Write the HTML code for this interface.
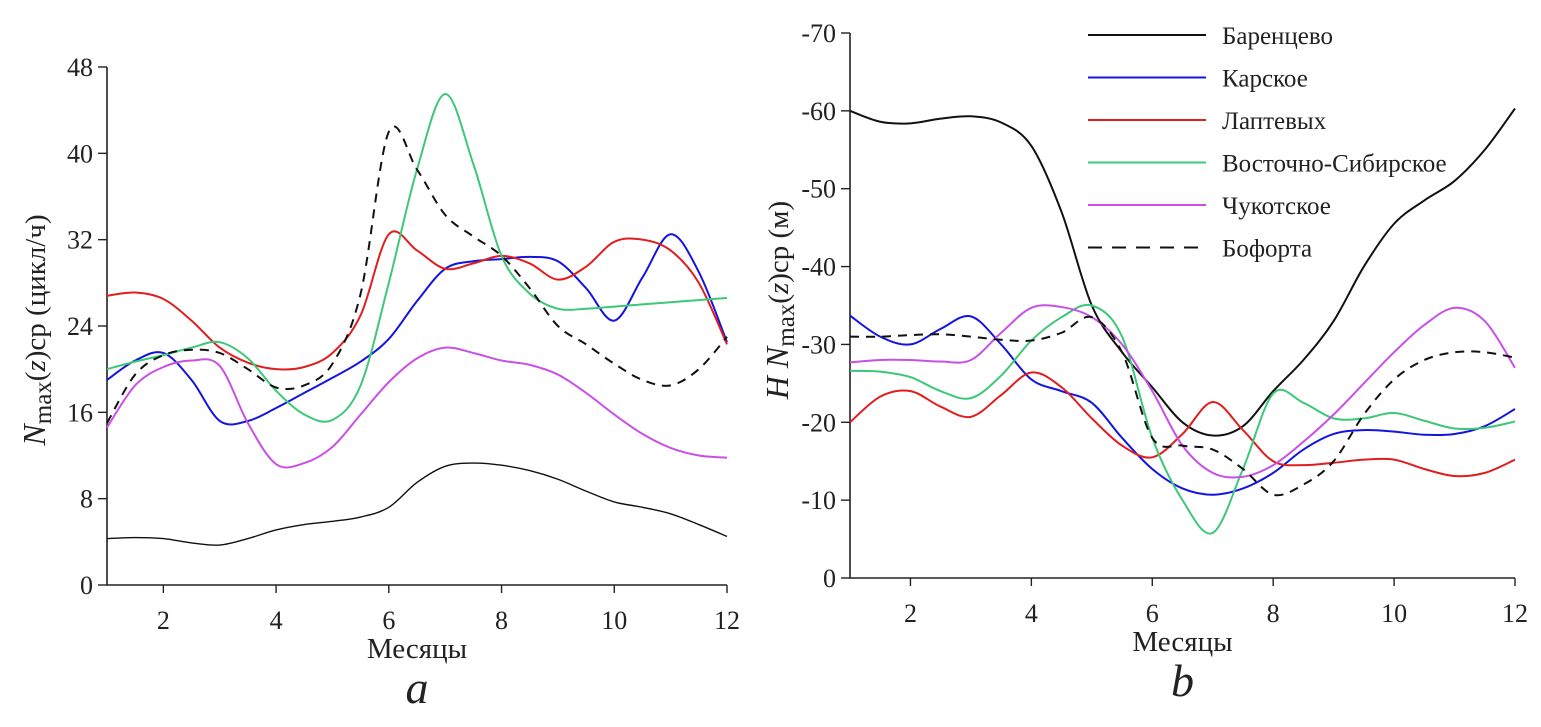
<!DOCTYPE html>
<html><head><meta charset="utf-8"><style>
body{margin:0;background:#fff;}
svg{display:block;font-family:"Liberation Serif","DejaVu Serif",serif;}
</style></head><body>
<svg id="c" width="1541" height="727" viewBox="0 0 1541 727"></svg>
<script>
const months=[1,1.5,2,2.5,3,3.5,4,4.5,5,5.5,6,6.5,7,7.5,8,8.5,9,9.5,10,10.5,11,11.5,12];
const xTicks=[2,4,6,8,10,12];
const aTicks=[0,8,16,24,32,40,48];
const bTicks=[0,-10,-20,-30,-40,-50,-60,-70];
const seriesNames=["Баренцево","Карское","Лаптевых","Восточно-Сибирское","Чукотское","Бофорта"];
const seriesColors=["#111","#1414e0","#e01e1e","#3cc878","#c850e6","#111"];
const aBarents=[4.3,4.4,4.3,3.9,3.7,4.3,5.1,5.6,5.9,6.3,7.2,9.5,11.0,11.3,11.1,10.6,9.8,8.7,7.7,7.2,6.6,5.6,4.5];
const aKara=[19,20.8,21.5,19,15.2,15.2,16.4,17.8,19.2,20.7,22.8,26.3,29.3,30,30.2,30.4,30,27.5,24.5,28.5,32.5,29,22.5];
const aLaptev=[26.8,27.1,26.5,24.5,22,20.6,20,20.2,21.5,25,32.5,31,29.3,29.8,30.5,29.8,28.3,29.5,31.8,32,31,28,22.3];
const aEastSib=[20,20.7,21.3,22,22.5,21,18,15.8,15.3,18.5,28,38.5,45.5,39,30.5,27,25.6,25.6,25.8,26,26.2,26.4,26.6];
const aChukchi=[14.6,18.5,20.2,20.8,20.3,15,11.2,11.3,12.8,15.8,18.8,21,22,21.5,20.8,20.4,19.5,17.8,15.8,14,12.7,12,11.8];
const aBeaufort=[15,19.5,21.3,21.8,21.5,20,18.3,18.5,20.5,27,42,38.5,34.3,32.3,30.5,27.5,24,22.3,20.5,19,18.5,20,23];
const bBarents=[-60,-58.6,-58.4,-59,-59.3,-58.5,-55.5,-47,-35,-29,-24.5,-20,-18.3,-19.5,-24,-28,-33,-40,-45.5,-48.5,-51,-55,-60.3];
const bKara=[-33.7,-31,-30,-32,-33.6,-30,-25.5,-24,-22.5,-18,-14,-11.5,-10.7,-11.5,-13.5,-16.5,-18.5,-19,-18.8,-18.4,-18.5,-19.5,-21.7];
const bLaptev=[-20,-23.3,-24,-22,-20.7,-23.5,-26.4,-24.5,-20.5,-17,-15.5,-18.5,-22.6,-19,-15,-14.5,-14.8,-15.2,-15.2,-14,-13.1,-13.5,-15.2];
const bEastSib=[-26.6,-26.5,-25.8,-24,-23.1,-26,-30.5,-33.5,-35,-31,-18,-10,-5.8,-14,-23.7,-22.5,-20.5,-20.5,-21.2,-20.2,-19.2,-19.3,-20.1];
const bChukchi=[-27.7,-28,-28,-27.8,-28,-31.5,-34.7,-34.8,-33.5,-30,-24,-17,-13.5,-13,-14.5,-17.5,-21,-25,-29,-32.5,-34.7,-33,-27];
const bBeaufort=[-31,-31,-31.2,-31.3,-31,-30.6,-30.5,-31.5,-33.5,-29,-18,-17,-16.5,-14,-10.7,-12,-15,-21,-25.5,-28,-29,-29,-28.3];

const NS="http://www.w3.org/2000/svg";
const svg=document.getElementById('c');
function mk(tag,attrs,parent){const e=document.createElementNS(NS,tag);for(const k in attrs)e.setAttribute(k,attrs[k]);(parent||svg).appendChild(e);return e;}
function smooth(pts){let d=`M${pts[0][0]},${pts[0][1]}`;for(let i=0;i<pts.length-1;i++){const p0=pts[Math.max(0,i-1)],p1=pts[i],p2=pts[i+1],p3=pts[Math.min(pts.length-1,i+2)];const c1=[p1[0]+(p2[0]-p0[0])/6,p1[1]+(p2[1]-p0[1])/6],c2=[p2[0]-(p3[0]-p1[0])/6,p2[1]-(p3[1]-p1[1])/6];d+=`C${c1[0]},${c1[1]} ${c2[0]},${c2[1]} ${p2[0]},${p2[1]}`;}return d;}

function panel(cfg){
  const g=mk('g',{});
  
  
  const sx=m=>cfg.x0+(m-1)*(cfg.x1-cfg.x0)/11;
  const sy=v=>cfg.yb+(v-cfg.vmin)/(cfg.vmax-cfg.vmin)*(cfg.yt-cfg.yb);
  const ax=mk('path',{d:`M${cfg.x0},${cfg.yt}V${cfg.yb}H${cfg.x1}`,stroke:'#222','stroke-width':1.6,fill:'none'},g);
  
  cfg.yticks.forEach(v=>{
    mk('line',{x1:cfg.x0-9,x2:cfg.x0,y1:sy(v),y2:sy(v),stroke:'#222','stroke-width':1.4},g);
    const t=mk('text',{x:cfg.x0-14,y:sy(v)+9,'text-anchor':'end','font-size':26,fill:'#222'},g);
    t.textContent=v;
    
  });
  xTicks.forEach(m=>{
    mk('line',{x1:sx(m),x2:sx(m),y1:cfg.yb,y2:cfg.yb+8,stroke:'#222','stroke-width':1.4},g);
    const t=mk('text',{x:sx(m),y:cfg.yb+44,'text-anchor':'middle','font-size':26,fill:'#222'},g);
    t.textContent=m;
    
  });
  const xt=mk('text',{x:(cfg.x0+cfg.x1)/2,y:cfg.yb+73,'text-anchor':'middle','font-size':29,fill:'#222'},g);
  xt.textContent='Месяцы';
  
  const pl=mk('text',{x:(cfg.x0+cfg.x1)/2,y:cfg.yb+118,'text-anchor':'middle','font-size':46,'font-style':'italic',fill:'#222'},g);
  pl.textContent=cfg.letter;
  
  cfg.series.forEach((s,i)=>{
    const pts=s.map((v,j)=>[sx(months[j]),sy(v)]);
    const p=mk('path',{d:smooth(pts),fill:'none',stroke:seriesColors[i],'stroke-width':i==0&&cfg.letter=='a'?1.4:2},g);
    if(i==5)p.setAttribute('stroke-dasharray','9,7');
    
    
  });
}
panel({name:'panel-a',letter:'a',x0:107,x1:727,yb:585,yt:67,vmin:0,vmax:48,yticks:aTicks,series:[aBarents,aKara,aLaptev,aEastSib,aChukchi,aBeaufort]});
panel({name:'panel-b',letter:'b',x0:850,x1:1515,yb:578,yt:33,vmin:0,vmax:-70,yticks:bTicks,series:[bBarents,bKara,bLaptev,bEastSib,bChukchi,bBeaufort]});

const ya=mk('text',{transform:'translate(45,330) rotate(-90)','text-anchor':'middle','font-size':29,fill:'#222'});
ya.innerHTML='<tspan font-style="italic" font-size="32">N</tspan><tspan font-size="25" dy="6">max</tspan><tspan dy="-6">(</tspan><tspan font-style="italic">z</tspan><tspan>)ср (цикл/ч)</tspan>';

const yb=mk('text',{transform:'translate(788,300) rotate(-90)','text-anchor':'middle','font-size':29,fill:'#222'});
yb.innerHTML='<tspan font-style="italic" font-size="32">H N</tspan><tspan font-size="25" dy="6">max</tspan><tspan dy="-6">(</tspan><tspan font-style="italic">z</tspan><tspan>)ср (м)</tspan>';


const lg=mk('g',{});

seriesNames.forEach((n,i)=>{
  const y=35+i*42.5;
  const l=mk('line',{x1:1088,x2:1206,y1:y,y2:y,stroke:seriesColors[i],'stroke-width':2},lg);
  if(i==5)l.setAttribute('stroke-dasharray','14,10');
  const t=mk('text',{x:1222,y:y+9,'font-size':25,fill:'#222'},lg);
  t.textContent=n;
  
});
</script>
</body></html>
